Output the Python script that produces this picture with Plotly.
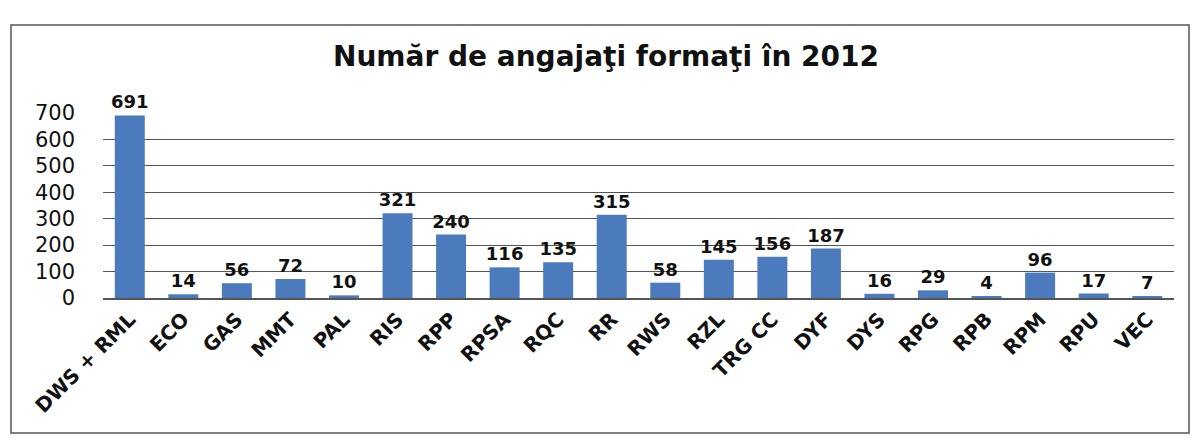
import plotly.graph_objects as go

categories = ["DWS + RML", "ECO", "GAS", "MMT", "PAL", "RIS", "RPP", "RPSA", "RQC", "RR",
              "RWS", "RZL", "TRG CC", "DYF", "DYS", "RPG", "RPB", "RPM", "RPU", "VEC"]
values = [691, 14, 56, 72, 10, 321, 240, 116, 135, 315,
          58, 145, 156, 187, 16, 29, 4, 96, 17, 7]
y_ticks = [0, 100, 200, 300, 400, 500, 600, 700]
title_text = "Număr de angajaţi formaţi în 2012"

W, H = 1193, 440
ml, mr, mt, mb = 103, 19, 113, 142
FONT = "DejaVu Sans"

fig = go.Figure(go.Bar(
    x=categories, y=values,
    marker=dict(color="#4b7bbd", line=dict(width=0)),
    text=[str(v) for v in values], textposition="outside",
    constraintext="none",
    textfont=dict(family=FONT, size=18, color="#111111", weight="bold"),
    cliponaxis=False,
))

pw = W - ml - mr
ph = H - mt - mb
def px_x(p):
    return (p - ml) / pw
def px_y(p):
    return (H - mb - p) / ph

fig.add_shape(type="rect", xref="paper", yref="paper",
              x0=px_x(11), x1=px_x(1189), y0=px_y(433), y1=px_y(25),
              line=dict(color="#555555", width=1.5), fillcolor="rgba(0,0,0,0)", layer="below")

fig.update_layout(
    width=W, height=H,
    margin=dict(l=ml, r=mr, t=mt, b=mb, autoexpand=False),
    paper_bgcolor="white", plot_bgcolor="white",
    bargap=0.44,
    showlegend=False,
    title=dict(text=title_text, x=606 / W, xref="container", xanchor="center", y=1 - 56 / H, yanchor="middle",
               font=dict(family=FONT, size=28, color="#111111", weight="bold")),
    xaxis=dict(tickangle=-45, tickfont=dict(family=FONT, size=20, color="#111111", weight="bold"),
               showgrid=False, showline=True, linecolor="#555555", linewidth=1.5, ticks="",
               automargin=False),
    yaxis=dict(range=[0, 700], tickvals=y_ticks, tickfont=dict(family=FONT, size=21, color="#111111"),
               showgrid=True, gridcolor="#555555", gridwidth=1.3, zeroline=False, showline=False,
               ticks="", ticklabelstandoff=27, automargin=False),
)

fig.write_html("out.html", config={"displayModeBar": False},
               post_script="document.body.style.margin='0';")
